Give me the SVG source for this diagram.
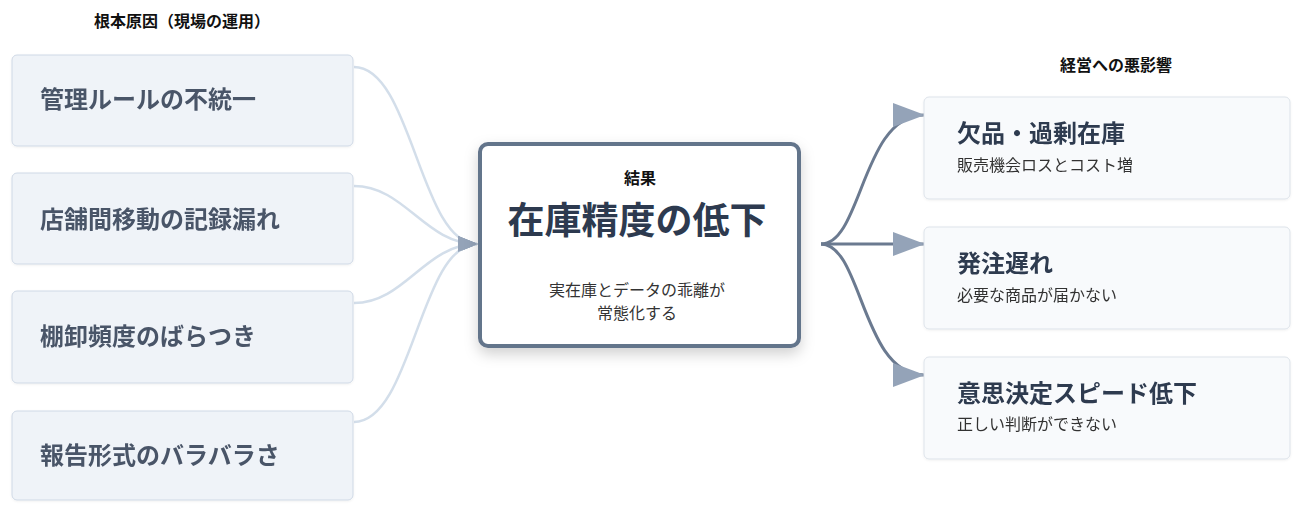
<svg xmlns="http://www.w3.org/2000/svg" width="1300" height="513" viewBox="0 0 1300 513">
<defs>
<style>
text{font-family:"Noto Sans CJK JP","Noto Sans",sans-serif}
.hdr{font-size:16px;font-weight:700;fill:#111;text-anchor:middle}
.cause rect{fill:#eff3f8;stroke:#cfd9e6;stroke-width:1}
.cause text{font-size:24px;font-weight:700;fill:#4a5568}
.eff rect{fill:#f8fafc;stroke:#dde3ea;stroke-width:1}
.eff .t{font-size:24px;font-weight:700;fill:#2d3a4f}
.eff .s{font-size:16px;fill:#333}
.in{fill:none;stroke:#d3deea;stroke-width:2.5}
.out{fill:none;stroke:#6b7a90;stroke-width:3}
</style>
<marker id="ahL" markerWidth="20" markerHeight="16" refX="19" refY="8" orient="auto" markerUnits="userSpaceOnUse">
<path d="M0,0 L20,8 L0,16 Z" fill="#94a3b8"/>
</marker>
<marker id="ahR" markerWidth="32" markerHeight="24" refX="31" refY="12" orient="auto" markerUnits="userSpaceOnUse">
<path d="M0,0 L32,12 L0,24 Z" fill="#94a3b8"/>
</marker>
<filter id="sh" x="-20%" y="-20%" width="140%" height="150%">
<feDropShadow dx="0" dy="6" stdDeviation="7" flood-color="#000" flood-opacity="0.18"/>
</filter>
<filter id="sh2" x="-5%" y="-10%" width="110%" height="130%">
<feDropShadow dx="0" dy="1" stdDeviation="1" flood-color="#000" flood-opacity="0.06"/>
</filter>
</defs>
<rect width="1300" height="513" fill="#fff"/>

<text class="hdr" x="182" y="27">根本原因（現場の運用）</text>
<text class="hdr" x="1116" y="71">経営への悪影響</text>

<g id="connectors">
<path class="in" d="M354,67 C412,67 420,244 477,244" marker-end="url(#ahL)"/>
<path class="in" d="M354,186 C405,186 425,244 477,244" marker-end="url(#ahL)"/>
<path class="in" d="M354,303 C405,303 425,244 477,244" marker-end="url(#ahL)"/>
<path class="in" d="M354,422 C412,422 420,244 477,244" marker-end="url(#ahL)"/>
<path class="out" d="M821,244 C862,244 862,115 924,115" marker-end="url(#ahR)"/>
<path class="out" d="M821,244 L924,244" marker-end="url(#ahR)"/>
<path class="out" d="M821,244 C862,244 862,375 924,375" marker-end="url(#ahR)"/>
</g>

<g id="cause1" class="cause" filter="url(#sh2)">
<rect x="12" y="55" width="341" height="91" rx="5"/>
<text x="40" y="108">管理ルールの不統一</text>
</g>
<g id="cause2" class="cause" filter="url(#sh2)">
<rect x="12" y="173" width="341" height="91" rx="5"/>
<text x="40" y="228">店舗間移動の記録漏れ</text>
</g>
<g id="cause3" class="cause" filter="url(#sh2)">
<rect x="12" y="291" width="341" height="92" rx="5"/>
<text x="40" y="345">棚卸頻度のばらつき</text>
</g>
<g id="cause4" class="cause" filter="url(#sh2)">
<rect x="12" y="411" width="341" height="89" rx="5"/>
<text x="40" y="464">報告形式のバラバラさ</text>
</g>

<g id="result">
<rect x="480" y="144" width="319" height="202" rx="8" fill="#fff" stroke="#64748b" stroke-width="4" filter="url(#sh)"/>
<text x="640" y="184" font-size="16" font-weight="700" fill="#111" text-anchor="middle">結果</text>
<text x="637" y="234" font-size="37" font-weight="700" fill="#2d3a4f" text-anchor="middle">在庫精度の低下</text>
<text x="637" y="296" font-size="16" fill="#333" text-anchor="middle">実在庫とデータの乖離が</text>
<text x="637" y="319" font-size="16" fill="#333" text-anchor="middle">常態化する</text>
</g>

<g id="effect1" class="eff" filter="url(#sh2)">
<rect x="924" y="97" width="366" height="102" rx="5"/>
<text class="t" x="957" y="142">欠品・過剰在庫</text>
<text class="s" x="957" y="171">販売機会ロスとコスト増</text>
</g>
<g id="effect2" class="eff" filter="url(#sh2)">
<rect x="924" y="227" width="366" height="102" rx="5"/>
<text class="t" x="957" y="272">発注遅れ</text>
<text class="s" x="957" y="301">必要な商品が届かない</text>
</g>
<g id="effect3" class="eff" filter="url(#sh2)">
<rect x="924" y="357" width="366" height="102" rx="5"/>
<text class="t" x="957" y="402">意思決定スピード低下</text>
<text class="s" x="957" y="430">正しい判断ができない</text>
</g>
</svg>
